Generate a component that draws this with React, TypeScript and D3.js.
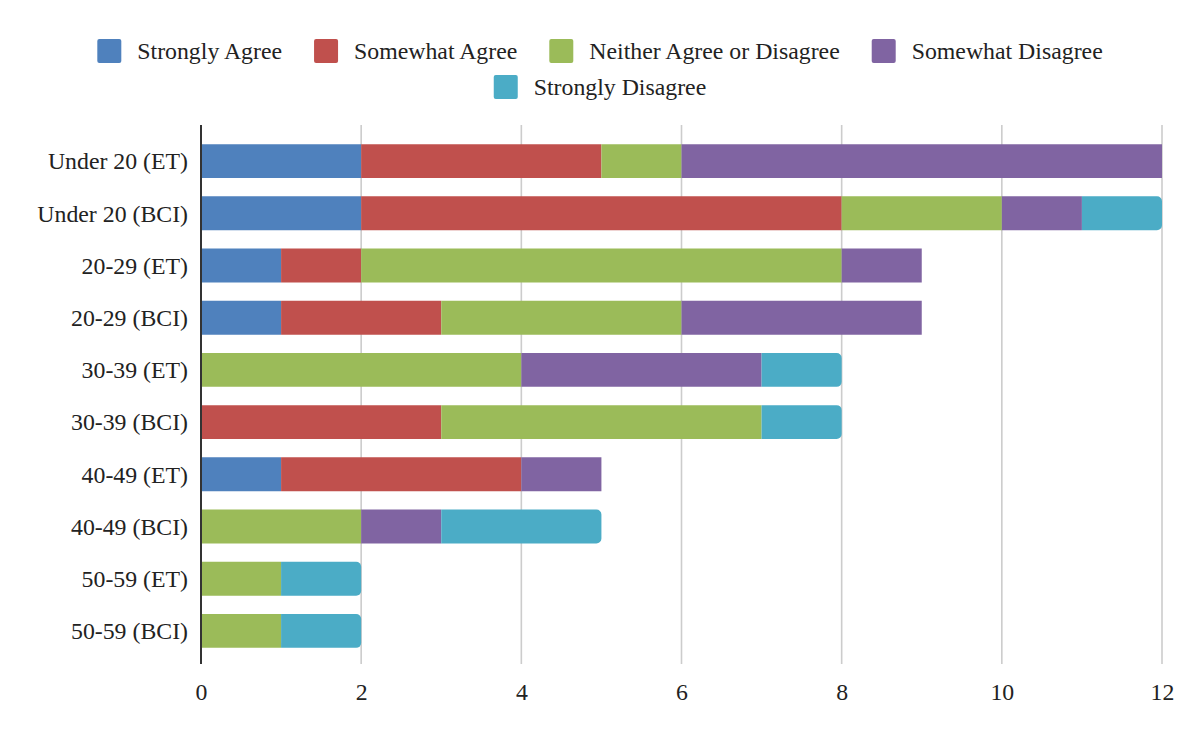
import { useCallback, useEffect, useRef } from 'react';

import { axisBottom, scaleBand, scaleLinear, select, stack } from 'd3';

const categories = [
  'Under 20 (ET)',
  'Under 20 (BCI)',
  '20-29 (ET)',
  '20-29 (BCI)',
  '30-39 (ET)',
  '30-39 (BCI)',
  '40-49 (ET)',
  '40-49 (BCI)',
  '50-59 (ET)',
  '50-59 (BCI)',
];

const seriesNames = [
  'Strongly Agree',
  'Somewhat Agree',
  'Neither Agree or Disagree',
  'Somewhat Disagree',
  'Strongly Disagree',
];

const stronglyAgree = [2, 2, 1, 1, 0, 0, 1, 0, 0, 0];
const somewhatAgree = [3, 6, 1, 2, 0, 3, 3, 0, 0, 0];
const neither = [1, 2, 6, 3, 4, 4, 0, 2, 1, 1];
const somewhatDisagree = [6, 1, 1, 3, 3, 0, 1, 1, 0, 0];
const stronglyDisagree = [0, 1, 0, 0, 1, 1, 0, 2, 1, 1];

const xTicks = [0, 2, 4, 6, 8, 10, 12];

const colors = ['#4f81bd', '#c0504d', '#9bbb59', '#8064a2', '#4bacc6'];

const FONT = '"Liberation Serif", "Times New Roman", serif';
const FONT_SIZE = 23.8;

type Row = { [key: string]: number | string };

export default function App() {
  const containerRef = useRef<HTMLDivElement>(null);

  const initChart = useCallback(() => {
    const container = containerRef.current;
    if (!container) return;

    const width = 1200,
      height = 742;
    const margin = { top: 135, right: 38, bottom: 85, left: 201 };
    const innerW = width - margin.left - margin.right;

    const table: Row[] = categories.map((c, i) => ({
      category: c,
      [seriesNames[0]]: stronglyAgree[i],
      [seriesNames[1]]: somewhatAgree[i],
      [seriesNames[2]]: neither[i],
      [seriesNames[3]]: somewhatDisagree[i],
      [seriesNames[4]]: stronglyDisagree[i],
    }));

    const div = select(container);
    div.select('svg').remove();

    const svg = div
      .append('svg')
      .attr('width', width)
      .attr('height', height)
      .style('display', 'block')
      .style('font-family', FONT);

    svg.append('rect').attr('width', width).attr('height', height).attr('fill', '#fff');

    const x = scaleLinear().domain([0, 12]).range([margin.left, margin.left + innerW]);
    const y = scaleBand()
      .domain(categories)
      .range([margin.top, height - margin.bottom])
      .paddingInner(0.35)
      .paddingOuter(0.175);

    const gridTop = 125,
      gridBottom = 664;

    // gridlines
    svg
      .append('g')
      .attr('class', 'grid')
      .selectAll('line')
      .data(xTicks.filter((t) => t > 0))
      .join('line')
      .attr('x1', (d) => x(d))
      .attr('x2', (d) => x(d))
      .attr('y1', gridTop)
      .attr('y2', gridBottom)
      .attr('stroke', '#cccccc')
      .attr('stroke-width', 1.6);

    // bars
    const stacked = stack<Row>()
      .keys(seriesNames)
      .value((d, k) => d[k] as number)(table);

    const r = 5;
    const bars = svg.append('g').attr('class', 'bars');
    stacked.forEach((layer, li) => {
      const isLast = li === stacked.length - 1;
      bars
        .append('g')
        .attr('fill', colors[li])
        .selectAll('path')
        .data(layer.filter((d) => d[1] - d[0] > 0))
        .join('path')
        .attr('d', (d) => {
          const x0 = x(d[0]);
          const x1 = x(d[1]);
          const y0 = y(d.data.category as string) || 0;
          const h = y.bandwidth();
          if (!isLast) return `M${x0},${y0}H${x1}V${y0 + h}H${x0}Z`;
          return `M${x0},${y0}H${x1 - r}A${r},${r} 0 0 1 ${x1},${y0 + r}V${y0 + h - r}A${r},${r} 0 0 1 ${x1 - r},${y0 + h}H${x0}Z`;
        });
    });

    // left axis line
    svg
      .append('line')
      .attr('x1', x(0))
      .attr('x2', x(0))
      .attr('y1', gridTop)
      .attr('y2', gridBottom)
      .attr('stroke', '#333333')
      .attr('stroke-width', 2);

    // category labels
    svg
      .append('g')
      .attr('class', 'y-labels')
      .selectAll('text')
      .data(categories)
      .join('text')
      .attr('x', x(0) - 13)
      .attr('y', (d) => (y(d) || 0) + y.bandwidth() / 2)
      .attr('dy', '0.35em')
      .attr('text-anchor', 'end')
      .attr('font-size', FONT_SIZE)
      .attr('fill', '#222')
      .text((d) => d);

    // X axis
    svg
      .append('g')
      .attr('class', 'x-axis')
      .attr('transform', `translate(0,${gridBottom})`)
      .call(axisBottom(x).tickValues(xTicks).tickSize(0).tickPadding(19))
      .call((g) => {
        g.select('.domain').remove();
        g.selectAll('text')
          .attr('font-family', FONT)
          .attr('font-size', FONT_SIZE)
          .attr('fill', '#222');
      });

    // legend
    const legend = svg.append('g').attr('class', 'legend');
    const rows = [seriesNames.slice(0, 4), seriesNames.slice(4)];
    const rowY = [51, 87];
    const sw = 24,
      gapText = 16,
      gapItem = 32;
    rows.forEach((names, ri) => {
      const row = legend.append('g');
      let cx = 0;
      names.forEach((name) => {
        const idx = seriesNames.indexOf(name);
        row
          .append('rect')
          .attr('x', cx)
          .attr('y', rowY[ri] - sw / 2)
          .attr('width', sw)
          .attr('height', sw)
          .attr('rx', 2)
          .attr('fill', colors[idx]);
        const t = row
          .append('text')
          .attr('x', cx + sw + gapText)
          .attr('y', rowY[ri])
          .attr('dy', '0.35em')
          .attr('font-size', FONT_SIZE)
          .attr('fill', '#222')
          .text(name);
        const tw = (t.node() as SVGTextElement).getComputedTextLength();
        cx += sw + gapText + tw + gapItem;
      });
      const total = cx - gapItem;
      row.attr('transform', `translate(${(width - total) / 2},0)`);
    });
  }, []);

  const destroyChart = useCallback(() => {
    const container = containerRef.current;
    if (!container) return;
    select(container).select('svg').remove();
  }, []);

  useEffect(() => {
    initChart();
    return destroyChart;
  }, [destroyChart, initChart]);

  return <div ref={containerRef} style={{ margin: -8, width: 1200, height: 742 }} />;
}
